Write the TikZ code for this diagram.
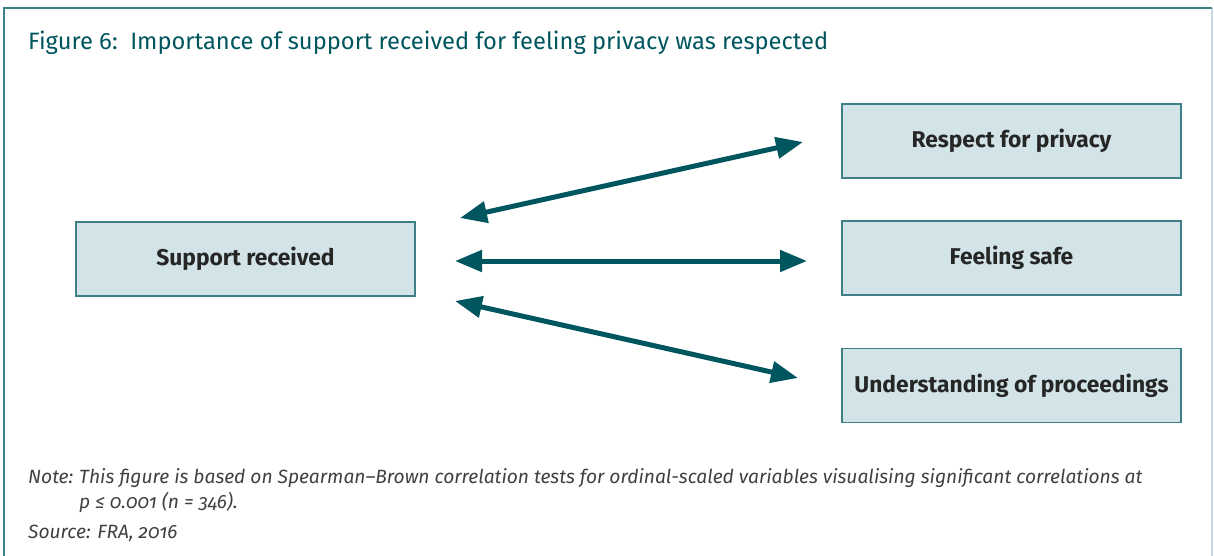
\documentclass[tikz,border=0pt]{standalone}
\usepackage{fontspec}
\setmainfont{Fira Sans}[Numbers=OldStyle]
\usetikzlibrary{arrows.meta}
\definecolor{fradark}{HTML}{00565E}
\definecolor{fraline}{HTML}{3F7F87}
\definecolor{frafill}{HTML}{D3E4E8}
\definecolor{fralight}{HTML}{C6DADF}
\tikzstyle{box}=[draw=fraline, fill=frafill, line width=1.5pt, minimum width=339pt, minimum height=74pt, inner sep=0pt, font=\fontsize{22.8}{27}\selectfont\bfseries, text=black!85]
\tikzstyle{link}=[{Triangle[length=27pt,width=21pt]}-{Triangle[length=27pt,width=21pt]}, line width=5pt, fradark]
\tikzstyle{note}=[anchor=base west, inner sep=0pt, text=black!75, font=\fontsize{19.2}{25}\selectfont\itshape]

\begin{document}
\begin{tikzpicture}[x=1pt, y=-1pt]
\useasboundingbox (0,0) rectangle (1214,556);
% Frame
    \draw[fralight, line width=1.5pt] (1212,8) -- (1212,556);
    \draw[fraline, line width=1.5pt] (4,556) -- (4,8) -- (1212,8);
% Title
    \node[anchor=base west, inner sep=0pt, fradark, font=\fontsize{23.7}{28}\selectfont] (title) at (28,50) {Figure 6:\ \ Importance of support received for feeling privacy was respected};
% Boxes
    \node[box] (sup) at (245.5,259) {Support received};
    \node[box] (resp) at (1011.5,141) {Respect for privacy};
    \node[box] (safe) at (1011.5,258) {Feeling safe};
    \node[box] (proc) at (1011.5,385.5) {Understanding of proceedings};
% Arrow ends
    \coordinate (supa) at (460,218);
    \coordinate (supb) at (455,261);
    \coordinate (supc) at (455,301);
    \coordinate (respa) at (803,142);
    \coordinate (safea) at (807,261);
    \coordinate (proca) at (798,378);
% Arrows
    \draw[link] (supa) -- (respa);
    \draw[link] (supb) -- (safea);
    \draw[link] (supc) -- (proca);
% Notes
    \node[note] (notelbl) at (28,483) {Note:};
    \node[note] (notetxt) at (79,483) {This figure is based on Spearman–Brown correlation tests for ordinal-scaled variables visualising significant correlations at};
    \node[note] (notetxt2) at (79,508) {p ≤ 0.001 (n = 346).};
    \node[note] (source) at (28,538) {Source: FRA, 2016};
\end{tikzpicture}
\end{document}
